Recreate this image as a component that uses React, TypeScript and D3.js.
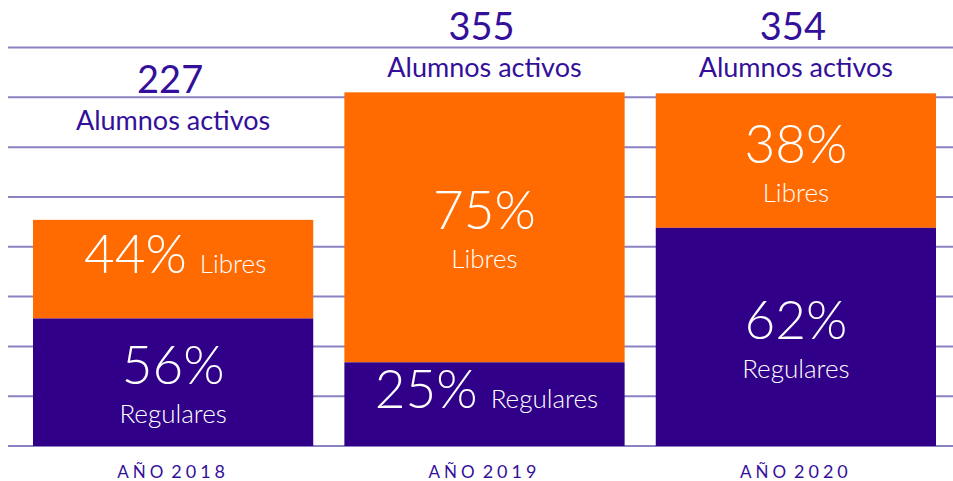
import React from "react";
import * as d3 from "d3";

const years = ["2018", "2019", "2020"];
const totals = [227, 355, 354];
const regulares = [128, 84, 219];
const pctRegulares = ["56%", "25%", "62%"];
const pctLibres = ["44%", "75%", "38%"];
const libresLayout = ["inline", "stacked", "stacked"];
const regularesLayout = ["stacked", "inline", "stacked"];
const totalLabelAt = [317, 370, 370];
const gridTicks = [0, 50, 100, 150, 200, 250, 300, 350, 400];

const W = 953;
const H = 481;
const PURPLE = "#300088";
const ORANGE = "#ff6b00";
const GRID = "#8a82c2";
const TEXT = "#34109a";
const FONT = "Lato, 'Open Sans', sans-serif";

export default function App() {
  const x = d3.scaleBand<string>().domain(years).range([33, 936]).paddingInner(0.1).paddingOuter(0);
  const y = d3.scaleLinear().domain([0, 400]).range([446, 47.5]);

  const segLabel = (
    key: string,
    cx: number,
    top: number,
    bottom: number,
    pct: string,
    word: string,
    layout: string
  ) => {
    const c = (top + bottom) / 2;
    if (layout === "inline") {
      return (
        <text key={key} x={cx + 2} y={c + 4} textAnchor="middle" fill="#fff" fontFamily={FONT}>
          <tspan fontSize={53} fontWeight={300}>{pct}</tspan>
          <tspan fontSize={26} fontWeight={300} dx={13}>{word}</tspan>
        </text>
      );
    }
    return (
      <g key={key}>
        <text x={cx} y={c + 2} textAnchor="middle" fill="#fff" fontFamily={FONT} fontSize={53} fontWeight={300}>
          {pct}
        </text>
        <text x={cx} y={c + 41} textAnchor="middle" fill="#fff" fontFamily={FONT} fontSize={26} fontWeight={300}>
          {word}
        </text>
      </g>
    );
  };

  return (
    <svg width={W} height={H} style={{ position: "absolute", left: 0, top: 0, background: "#fff" }}>
      {gridTicks.map((t) => (
        <line key={t} x1={8} x2={W} y1={y(t)} y2={y(t)} stroke={GRID} strokeWidth={2} />
      ))}
      {years.map((yr, i) => {
        const x0 = x(yr) as number;
        const bw = x.bandwidth();
        const cx = x0 + bw / 2;
        const yTop = y(totals[i]);
        const ySplit = y(regulares[i]);
        const yBase = y(0);
        const lab = y(totalLabelAt[i]);
        return (
          <g key={yr}>
            <rect x={x0} y={yTop} width={bw} height={ySplit - yTop} fill={ORANGE} />
            <rect x={x0} y={ySplit} width={bw} height={yBase - ySplit} fill={PURPLE} />
            {segLabel("l" + i, cx, yTop, ySplit, pctLibres[i], "Libres", libresLayout[i])}
            {segLabel("r" + i, cx, ySplit, yBase, pctRegulares[i], "Regulares", regularesLayout[i])}
            <text x={cx - 3} y={lab - 37} textAnchor="middle" fill={TEXT} fontFamily={FONT} fontSize={38} fontWeight={400}>
              {totals[i]}
            </text>
            <text x={cx} y={lab} textAnchor="middle" fill={TEXT} fontFamily={FONT} fontSize={27} fontWeight={400}>
              Alumnos activos
            </text>
            <text x={cx} y={478} textAnchor="middle" fill={TEXT} fontFamily={FONT} letterSpacing={4}>
              <tspan fontSize={17}>AÑO</tspan>
              <tspan fontSize={18} dx={4}>{yr}</tspan>
            </text>
          </g>
        );
      })}
    </svg>
  );
}
